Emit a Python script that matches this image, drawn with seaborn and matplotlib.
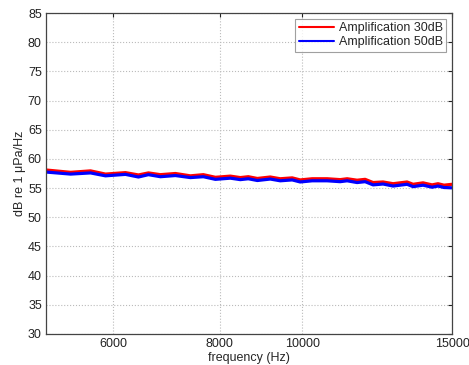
import numpy as np
import pandas as pd
import matplotlib
matplotlib.use("Agg")
import matplotlib.pyplot as plt
from matplotlib.ticker import NullLocator, FixedLocator, FixedFormatter
import seaborn as sns

freq = [5000, 5344, 5640, 5873, 6199, 6421, 6597, 6814, 7096, 7390, 7654, 7907,
        8234, 8459, 8644, 8858, 9173, 9424, 9734, 9947, 10275, 10701, 11084, 11295,
        11603, 11857, 12116, 12447, 12790, 13282, 13501, 13870, 14212, 14443, 14678, 15000]
amp30 = [58.10, 57.70, 57.95, 57.40, 57.65, 57.25, 57.60, 57.30, 57.50, 57.10, 57.30, 56.85,
         57.05, 56.80, 56.95, 56.65, 56.90, 56.60, 56.75, 56.40, 56.60, 56.60, 56.45, 56.60,
         56.35, 56.50, 55.95, 56.05, 55.75, 56.05, 55.65, 55.90, 55.55, 55.75, 55.50, 55.65]
amp50 = [57.75, 57.40, 57.60, 57.10, 57.35, 56.90, 57.30, 56.95, 57.15, 56.80, 56.95, 56.50,
         56.70, 56.45, 56.60, 56.30, 56.55, 56.25, 56.40, 56.05, 56.25, 56.25, 56.10, 56.25,
         55.95, 56.10, 55.55, 55.70, 55.35, 55.65, 55.25, 55.50, 55.15, 55.35, 55.10, 55.05]
labels = ["Amplification 30dB", "Amplification 50dB"]
xticks = [6000, 8000, 10000, 15000]
yticks = list(range(30, 90, 5))

df = pd.concat([
    pd.DataFrame({"freq": freq, "level": amp30, "series": labels[0]}),
    pd.DataFrame({"freq": freq, "level": amp50, "series": labels[1]}),
])

sns.set_style("white")
plt.rcParams["font.family"] = ["Liberation Sans", "DejaVu Sans"]

fig = plt.figure(figsize=(4.69, 3.65), dpi=100)
ax = fig.add_axes([46/469, 1 - 334/365, (452 - 46)/469, (334 - 13)/365])

sns.lineplot(data=df, x="freq", y="level", hue="series", palette=["#ff0000", "#0000ff"],
             linewidth=2.3, ax=ax, legend=True)

ax.set_xscale("log")
ax.set_xlim(5000, 15000)
ax.set_ylim(30, 85)
ax.xaxis.set_major_locator(FixedLocator(xticks))
ax.xaxis.set_major_formatter(FixedFormatter([str(t) for t in xticks]))
ax.xaxis.set_minor_locator(NullLocator())
ax.set_yticks(yticks)
ax.tick_params(direction="in", length=3, width=0.8, labelsize=9, colors="#222222",
               top=True, right=True, pad=3)
ax.grid(True, linestyle=":", color="#bbbbbb", linewidth=0.8)
for s in ax.spines.values():
    s.set_color("#444444")
    s.set_linewidth(0.9)
ax.set_xlabel("frequency (Hz)", fontsize=9, labelpad=1)
ax.set_ylabel("dB re 1 \u03bcPa/Hz", fontsize=9, labelpad=1)

leg = ax.legend(loc="upper right", fontsize=9, frameon=True, fancybox=False,
                edgecolor="#888888", handlelength=2.8, borderpad=0.3,
                labelspacing=0.15, handletextpad=0.4, borderaxespad=0.45)
leg.get_frame().set_linewidth(0.8)
leg.set_title(None)
for ln in leg.get_lines():
    ln.set_linewidth(1.5)

fig.savefig("out.png", dpi=100)
